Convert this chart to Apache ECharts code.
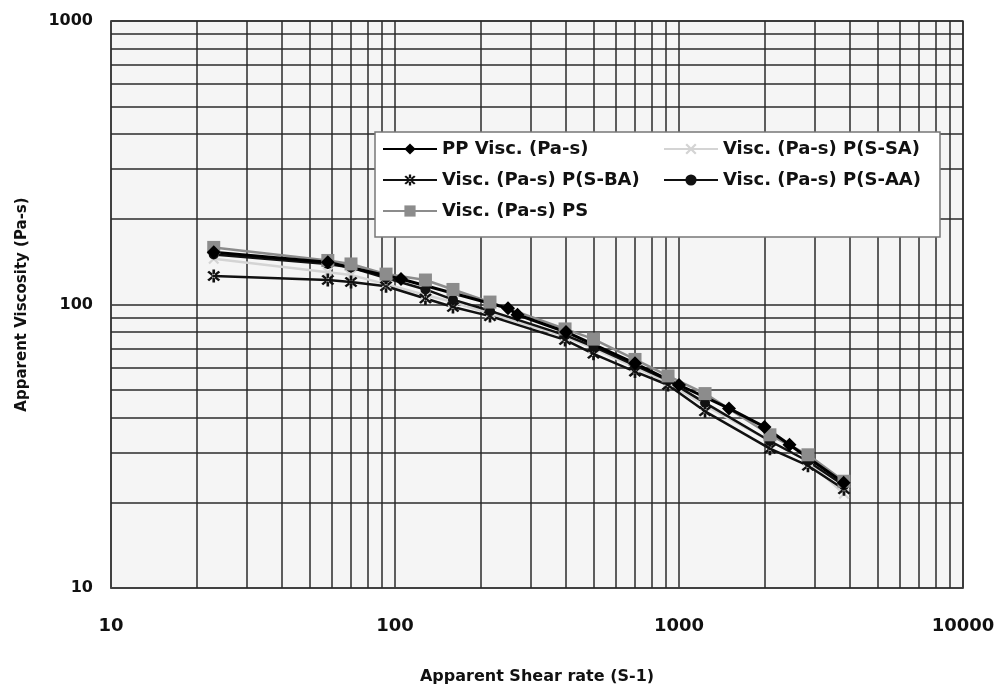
<!DOCTYPE html>
<html>
<head>
<meta charset="utf-8">
<script src="https://cdn.jsdelivr.net/npm/echarts@6/dist/echarts.min.js"></script>
<style>
    html, body { margin: 0; padding: 0; background: #fff; }
    #chart { width: 1000px; height: 690px; }
</style>
</head>
<body>
<div id="chart"></div>
<script>
// shear rates (S-1)
var shearRates = [23, 58, 70, 93, 128, 160, 216, 397, 500, 700, 915, 1235, 2090, 2845, 3810];
var ppRates = [23, 58, 105, 250, 270, 400, 700, 1000, 1500, 2000, 2450, 3800];

// viscosities (Pa-s)
var ppVisc = [153, 141, 123, 97, 92, 80, 62, 52, 43, 37, 32, 23.5];
var ssaVisc = [145, 130, 127, 118, 108, 102, 93, 77, 70, 60, 53, 44, 33, 28, 21.5];
var sbaVisc = [126, 122, 120, 116, 105, 98, 91, 75, 67, 58, 52, 42, 31, 27, 22.3];
var saaVisc = [150, 139, 135, 124, 113, 104, 95, 78, 71, 61, 54, 45, 33, 28, 23];
var psVisc = [159, 143, 139, 128, 122, 113, 102, 82, 75.5, 64, 56, 48.5, 34.7, 29.5, 23.8];

// minor grid lines
var xGrid = [20, 30, 40, 50, 60, 70, 80, 90, 200, 300, 400, 500, 600, 700, 800, 900,
    2000, 3000, 4000, 5000, 6000, 7000, 8000, 9000];
var yGrid = [20, 30, 40, 50, 60, 70, 80, 90, 200, 300, 400, 500, 600, 700, 800, 900];

var starPath = 'path://M-1,-6L1,-6L1,6L-1,6Z M-4.9,-3.5L3.5,4.9L4.9,3.5L-3.5,-4.9Z M3.5,-4.9L-4.9,3.5L-3.5,4.9L4.9,-3.5Z';
var crossPath = 'path://M-4.9,-3.5L3.5,4.9L4.9,3.5L-3.5,-4.9Z M3.5,-4.9L-4.9,3.5L-3.5,4.9L4.9,-3.5Z';

var FONT = 'DejaVu Sans';

function pairs(xs, ys) {
    return xs.map(function (x, i) { return [x, ys[i]]; });
}

function lineSeries(name, xs, ys, color, width, symbol, size, symColor) {
    return {
        name: name,
        type: 'line',
        data: pairs(xs, ys),
        symbol: symbol,
        symbolSize: size,
        lineStyle: {color: color, width: width},
        itemStyle: {color: symColor || color},
        z: 5
    };
}

var gridLines = [];
xGrid.forEach(function (v) { gridLines.push({xAxis: v}); });
yGrid.forEach(function (v) { gridLines.push({yAxis: v}); });

function plain(v) { return String(v); }

var legendText = {fontFamily: FONT, fontWeight: 'bold', fontSize: 18, color: '#111'};

var option = {
    backgroundColor: '#fff',
    animation: false,
    grid: {
        left: 111, right: 37, top: 21, bottom: 95,
        show: true,
        backgroundColor: '#f5f5f5',
        borderColor: '#444',
        borderWidth: 1.5
    },
    xAxis: {
        type: 'log',
        logBase: 10,
        min: 10,
        max: 10000,
        name: 'Apparent Shear rate (S-1)',
        nameLocation: 'middle',
        nameGap: 81,
        nameTextStyle: {fontFamily: FONT, fontWeight: 'bold', fontSize: 16, color: '#111'},
        axisLine: {lineStyle: {color: '#444', width: 1.5}},
        axisTick: {show: false},
        axisLabel: {fontFamily: FONT, fontWeight: 'bold', fontSize: 18, color: '#111', margin: 29, formatter: plain},
        splitLine: {show: true, lineStyle: {color: '#2a2a2a', width: 1.5}}
    },
    yAxis: {
        type: 'log',
        logBase: 10,
        min: 10,
        max: 1000,
        name: 'Apparent Viscosity (Pa-s)',
        nameLocation: 'middle',
        nameGap: 81,
        nameTextStyle: {fontFamily: FONT, fontWeight: 'bold', fontSize: 15, color: '#111'},
        axisLine: {lineStyle: {color: '#444', width: 1.5}},
        axisTick: {show: false},
        axisLabel: {fontFamily: FONT, fontWeight: 'bold', fontSize: 16, color: '#111', margin: 18, formatter: plain},
        splitLine: {show: true, lineStyle: {color: '#2a2a2a', width: 1.5}}
    },
    graphic: [{
        type: 'rect',
        shape: {x: 375, y: 132, width: 565, height: 105},
        style: {fill: '#fff', stroke: '#777', lineWidth: 1.5},
        z: 10
    }],
    legend: [{
        orient: 'vertical',
        left: 377,
        top: 135,
        itemWidth: 54,
        itemHeight: 14,
        itemGap: 13,
        textStyle: legendText,
        data: ['PP Visc. (Pa-s)', 'Visc. (Pa-s) P(S-BA)', 'Visc. (Pa-s) PS'],
        z: 20
    }, {
        orient: 'vertical',
        left: 658,
        top: 135,
        itemWidth: 54,
        itemHeight: 14,
        itemGap: 13,
        textStyle: legendText,
        data: ['Visc. (Pa-s) P(S-SA)', 'Visc. (Pa-s) P(S-AA)'],
        z: 20
    }],
    series: [
        {
            name: 'grid',
            type: 'line',
            data: [],
            silent: true,
            markLine: {
                silent: true,
                symbol: 'none',
                label: {show: false},
                lineStyle: {color: '#2a2a2a', width: 1.5, type: 'solid'},
                data: gridLines
            },
            z: 1
        },
        lineSeries('Visc. (Pa-s) P(S-SA)', shearRates, ssaVisc, '#d4d4d4', 2.5, crossPath, 11, '#d4d4d4'),
        lineSeries('Visc. (Pa-s) P(S-BA)', shearRates, sbaVisc, '#111', 2.5, starPath, 13),
        lineSeries('Visc. (Pa-s) P(S-AA)', shearRates, saaVisc, '#111', 2.5, 'circle', 10),
        lineSeries('Visc. (Pa-s) PS', shearRates, psVisc, '#8c8c8c', 2.5, 'rect', 13),
        lineSeries('PP Visc. (Pa-s)', ppRates, ppVisc, '#000', 3, 'diamond', 14)
    ]
};

echarts.init(document.getElementById('chart')).setOption(option);
</script>
</body>
</html>
